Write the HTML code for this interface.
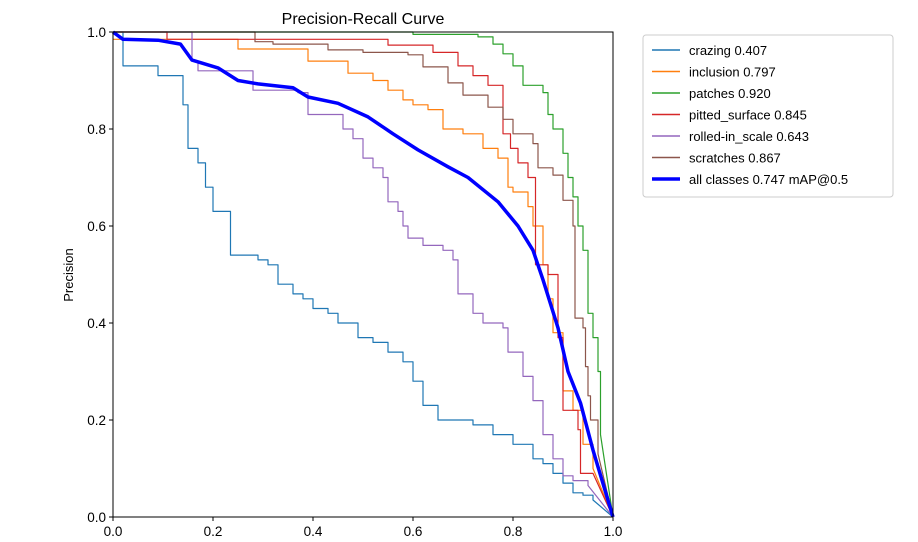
<!DOCTYPE html>
<html><head><meta charset="utf-8"><style>
body{margin:0;background:#fff;}
svg{display:block;font-family:"Liberation Sans","DejaVu Sans",sans-serif;}
</style></head><body>
<svg id="chart" width="918" height="542">
<text x="363" y="24" text-anchor="middle" font-size="16">Precision-Recall Curve</text>
<text transform="translate(73,275) rotate(-90)" text-anchor="middle" font-size="13">Precision</text>
<g id="plot"></g>
<rect x="113" y="32" width="500" height="485" fill="none" stroke="#000" stroke-width="1"/>
<g id="legend"></g>
</svg>
<script>
const xTicks=[0,0.2,0.4,0.6,0.8,1.0];
const yTicks=[0,0.2,0.4,0.6,0.8,1.0];
const names=["crazing 0.407","inclusion 0.797","patches 0.920","pitted_surface 0.845","rolled-in_scale 0.643","scratches 0.867","all classes 0.747 mAP@0.5"];
const colors=["#1f77b4","#ff7f0e","#2ca02c","#d62728","#9467bd","#8c564b","#0000ff"];
const crazingR=[0,0.02,0.02,0.085,0.09,0.135,0.14,0.15,0.17,0.185,0.2,0.235,0.29,0.31,0.33,0.36,0.38,0.40,0.43,0.45,0.49,0.52,0.55,0.58,0.6,0.62,0.65,0.72,0.76,0.8,0.84,0.86,0.88,0.9,0.92,0.94,0.96,1.0];
const crazingP=[1,1,0.93,0.93,0.91,0.91,0.85,0.76,0.73,0.68,0.63,0.54,0.53,0.52,0.48,0.46,0.45,0.43,0.42,0.40,0.37,0.36,0.34,0.32,0.28,0.23,0.20,0.19,0.17,0.15,0.12,0.11,0.09,0.07,0.05,0.045,0.035,0];
const inclusionR=[0,0.25,0.25,0.39,0.39,0.47,0.47,0.52,0.55,0.58,0.6,0.63,0.66,0.7,0.74,0.77,0.79,0.8,0.83,0.84,0.86,0.87,0.88,0.9,0.92,0.94,0.96,1];
const inclusionP=[0.985,0.985,0.965,0.965,0.94,0.94,0.915,0.9,0.88,0.86,0.85,0.84,0.8,0.79,0.76,0.74,0.68,0.67,0.64,0.6,0.52,0.45,0.38,0.26,0.22,0.15,0.1,0];
const patchesR=[0,0.43,0.6,0.73,0.76,0.78,0.8,0.82,0.86,0.87,0.88,0.9,0.91,0.92,0.93,0.94,0.95,0.96,0.97,0.975,1];
const patchesP=[1,1,0.995,0.99,0.975,0.955,0.93,0.89,0.875,0.83,0.8,0.75,0.7,0.66,0.6,0.55,0.42,0.37,0.3,0.17,0];
const pittedR=[0,0.108,0.108,0.55,0.55,0.64,0.64,0.69,0.69,0.72,0.75,0.78,0.78,0.795,0.81,0.83,0.845,0.845,0.87,0.89,0.9,0.9,0.93,0.935,0.96,1];
const pittedP=[1,1,0.985,0.985,0.973,0.973,0.958,0.958,0.93,0.91,0.89,0.87,0.79,0.76,0.73,0.70,0.68,0.52,0.5,0.37,0.31,0.22,0.18,0.09,0.09,0];
const rolledR=[0,0.158,0.158,0.17,0.28,0.28,0.37,0.39,0.45,0.46,0.48,0.5,0.52,0.54,0.55,0.57,0.58,0.59,0.62,0.66,0.68,0.69,0.72,0.74,0.78,0.79,0.82,0.84,0.86,0.88,0.9,0.92,0.95,1];
const rolledP=[1,1,0.94,0.92,0.91,0.88,0.875,0.83,0.83,0.80,0.78,0.74,0.72,0.70,0.65,0.63,0.60,0.575,0.56,0.55,0.53,0.46,0.42,0.40,0.39,0.34,0.29,0.24,0.17,0.12,0.085,0.075,0.065,0];
const scratchesR=[0,0.284,0.284,0.32,0.43,0.5,0.59,0.62,0.67,0.7,0.75,0.78,0.8,0.84,0.85,0.88,0.9,0.92,0.924,0.924,0.94,0.945,0.95,0.955,0.97,1];
const scratchesP=[1,1,0.98,0.975,0.963,0.958,0.953,0.928,0.895,0.87,0.845,0.82,0.79,0.77,0.72,0.705,0.653,0.6,0.55,0.41,0.39,0.31,0.25,0.2,0.13,0];
const allR=[0,0.02,0.09,0.135,0.158,0.21,0.25,0.29,0.36,0.39,0.45,0.51,0.56,0.61,0.67,0.71,0.77,0.81,0.84,0.86,0.89,0.91,0.935,0.96,1];
const allP=[1,0.985,0.983,0.975,0.942,0.926,0.90,0.893,0.885,0.866,0.853,0.825,0.79,0.757,0.722,0.70,0.65,0.60,0.55,0.489,0.39,0.30,0.235,0.138,0];

const NS="http://www.w3.org/2000/svg";
const X0=113,X1=613,Y0=517,Y1=32;
function sx(v){return X0+(X1-X0)*v;}
function sy(v){return Y0-(Y0-Y1)*v;}
const plot=document.getElementById('plot');
const legend=document.getElementById('legend');
function mk(tag,attrs,parent){const e=document.createElementNS(NS,tag);for(const k in attrs)e.setAttribute(k,attrs[k]);parent.appendChild(e);return e;}
xTicks.forEach(t=>{
  const l=mk('line',{x1:sx(t),x2:sx(t),y1:Y0,y2:Y0+4,stroke:'#000'},plot);
  
  
  const tx=mk('text',{x:sx(t),y:Y0+19,'text-anchor':'middle','font-size':13.5},plot);
  tx.textContent=t.toFixed(1);
  
  
});
yTicks.forEach(t=>{
  const l=mk('line',{x1:X0-4,x2:X0,y1:sy(t),y2:sy(t),stroke:'#000'},plot);
  
  
  const tx=mk('text',{x:X0-7,y:sy(t)+5,'text-anchor':'end','font-size':13.5},plot);
  tx.textContent=t.toFixed(1);
  
  
});
const series=[[crazingR,crazingP],[inclusionR,inclusionP],[patchesR,patchesP],[pittedR,pittedP],[rolledR,rolledP],[scratchesR,scratchesP],[allR,allP]];
const snames=['crazing-curve','inclusion-curve','patches-curve','pitted-surface-curve','rolled-in-scale-curve','scratches-curve','all-classes-curve'];
series.forEach((s,i)=>{
  const R=s[0],P=s[1];
  const pts=[];
  for(let j=0;j<R.length;j++){
    if(i!==6 && j>0 && j<R.length-1){
      pts.push(sx(R[j]).toFixed(1)+','+sy(P[j-1]).toFixed(1));
    }
    pts.push(sx(R[j]).toFixed(1)+','+sy(P[j]).toFixed(1));
  }
  const pl=mk('polyline',{points:pts.join(' '),fill:'none',stroke:colors[i],'stroke-width':i===6?3.5:1.2,'stroke-linejoin':'round'},plot);
  
  
});
const lb=mk('rect',{x:643,y:35,width:250,height:162,rx:3,fill:'#fff',stroke:'#ccc'},legend);


names.forEach((n,i)=>{
  const y=50+i*21.5;
  const l=mk('line',{x1:652,x2:680,y1:y,y2:y,stroke:colors[i],'stroke-width':i===6?3.5:1.5},legend);
  
  
  const t=mk('text',{x:689,y:y+5,'font-size':13},legend);
  t.textContent=n;
  
  
});
</script>
</body></html>
